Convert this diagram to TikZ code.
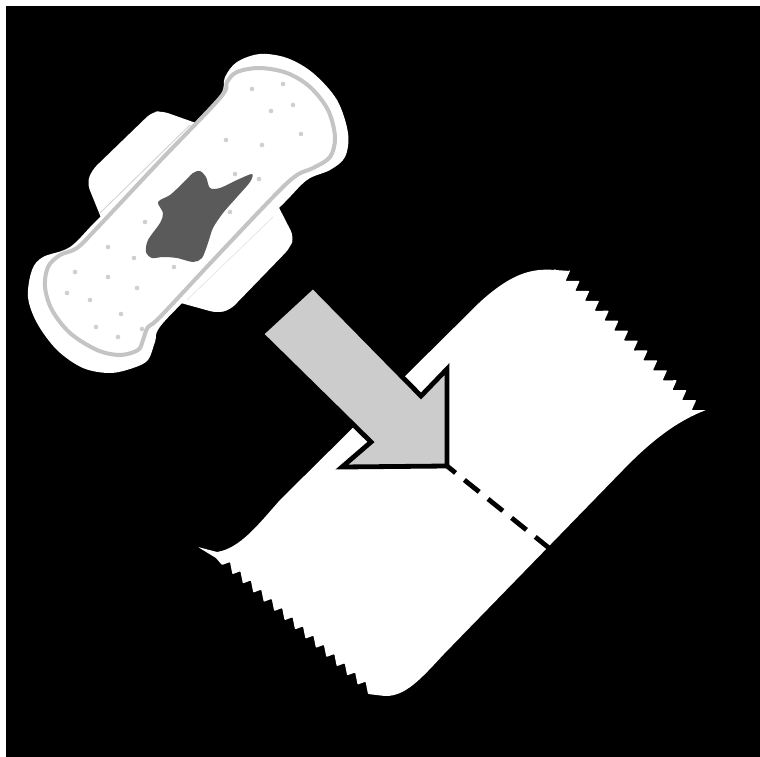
\documentclass[tikz,border=0pt]{standalone}
\usetikzlibrary{calc}
\definecolor{stain}{HTML}{5A5A5A}
\definecolor{seam}{HTML}{C4C4C4}
\definecolor{holegray}{HTML}{CFCFCF}
\definecolor{flow}{HTML}{CCCCCC}
\definecolor{fold}{HTML}{CFCFCF}

\begin{document}
\begin{tikzpicture}[x=1pt,y=-1pt,
    padbody/.style={fill=white},
    wing/.style={fill=white,rounded corners=7pt},
    padseam/.style={draw=seam,line width=4pt},
    holes/.style={fill=holegray},
    flowarrow/.style={draw=black,fill=flow,line width=4.8pt,miter limit=10},
    tearline/.style={draw=black,line width=4.8pt,dash pattern=on 19pt off 11.3pt,dash phase=8pt}]
    \useasboundingbox (0,0) rectangle (760,757);
    \fill[white] (0,0) rectangle (760,757);
    \fill[black] (6,6) rectangle (760,757);
    % wings and pad
    \path[wing] (110,240) -- (87,183) -- (92,170) -- (152,112) -- (162,111) -- (210,128) -- cycle;
    \path[wing] (270,190) -- (294,237) -- (290,248) -- (230,310) -- (217,313) -- (170,300) -- cycle;
    \fill[padbody] plot[smooth cycle,tension=0.55] coordinates {(260,54) (287,58) (313,73) (337,100) (348,133) (345,157) (330,170) (307,180) (282,205) (222,264) (163,323) (155,342) (148,360) (133,368) (110,373) (83,368) (57,350) (37,323) (28,297) (32,270) (43,257) (70,247) (97,220) (157,160) (217,100) (225,77) (237,62)};
    \draw[fold,line width=0.8pt] (100,213) -- (190,125);
    \draw[fold!50,line width=0.8pt] (187,300) -- (273,217);
    \draw[padseam] plot[smooth cycle,tension=0.55] coordinates {(260,68) (287,73) (310,87) (328,110) (335,137) (330,157) (313,168) (297,175) (277,193) (218,255) (160,317) (148,327) (143,340) (138,350) (120,355) (97,350) (70,333) (52,310) (45,287) (48,267) (60,255) (77,248) (98,227) (159,162) (220,98) (227,82) (237,72)};
    \foreach \x/\y in {252/89,283/84,271/111,293/105,301/134,226/140,262/145,235/174,259/179,230/212,145/222,108/247,134/258,174/267,75/272,108/277,137/288,67/293,90/300,121/314,96/327,142/329,118/337}
      \fill[holes] (\x,\y) circle (2.3pt);
    % stain
    \fill[stain] plot[smooth cycle,tension=0.5] coordinates {(200,171) (206,177) (210,188) (220,188) (237,180) (252,174) (250,182) (237,197) (223,213) (213,228) (208,243) (202,258) (193,262) (177,258) (163,257) (152,258) (146,252) (148,240) (160,223) (163,213) (158,202) (170,195) (183,183) (193,173)};
    % tape
    \fill[white,rounded corners=0.8pt] (555,270) -- (570,271)
      \foreach \i in {0,...,13} { -- ({570+9.71*\i},{271+9.93*\i}) -- ({565.5+9.71*\i},{281+9.93*\i}) }
      -- (706,410) .. controls (680,420) and (655,437) .. (623,470) -- (443,655)
      .. controls (420,680) and (405,696) .. (385,696) -- (368,694)
      \foreach \i in {13,...,0} { -- ({230+10.43*\i},{562+9.2*\i}) -- ({222+10.43*\i},{565+9.2*\i}) }
      -- (216,558) -- (198,547) -- (217,552) .. controls (240,548) and (258,525) .. (280,500)
      -- (480,302) .. controls (510,275) and (530,268) .. (555,270) -- cycle;
    % tear line and arrow
    \coordinate (tipa) at (447,466);
    \coordinate (tipb) at (549,548);
    \draw[tearline] (tipa) -- (tipb);
    \draw[flowarrow] (313,286) -- (261,334) -- (371,442) -- (342,467) -- (tipa) -- (447,369) -- (421,396) -- cycle;
\end{tikzpicture}
\end{document}
